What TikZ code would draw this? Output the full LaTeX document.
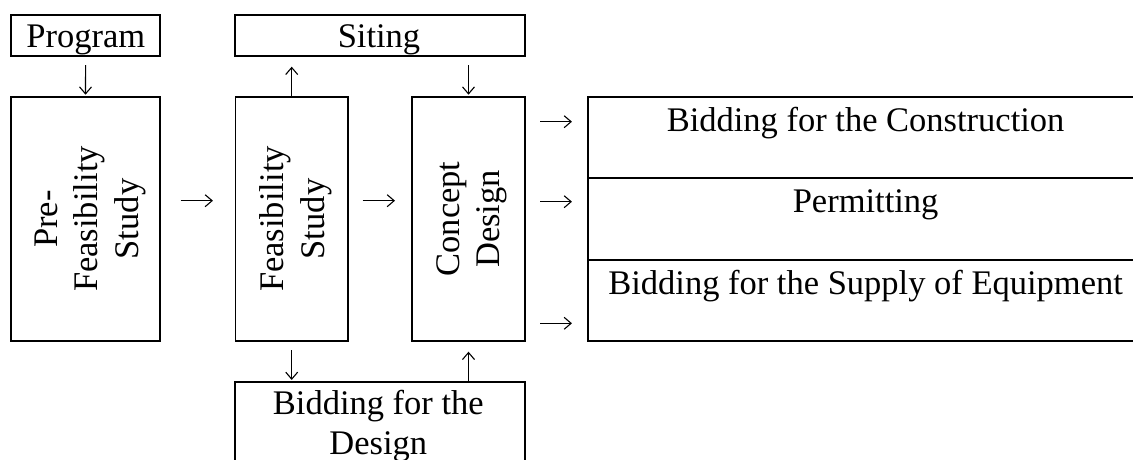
\documentclass[tikz,border=0pt]{standalone}
\usepackage{fontspec}
\setmainfont{Liberation Serif}
\usetikzlibrary{arrows.meta}

\begin{document}
\begin{tikzpicture}[x=1pt,y=1pt,
  box/.style={draw, line width=1.8pt, rectangle, inner sep=0pt, outer sep=0pt},
  lbl/.style={font=\fontsize{34.5}{40.5}\selectfont, align=center, inner sep=0pt},
  vlbl/.style={lbl, rotate=90},
  arr/.style={line width=1.1pt, -{Straight Barb[length=7pt,width=12pt]}},
]
\useasboundingbox (0,0) rectangle (1133,-459);
\clip (0,0) rectangle (1133,-459);

% top boxes
\node[box, minimum width=149.5, minimum height=41] (prog) at (85.6,-35.5) {};
\node[lbl, anchor=base] (progtxt) at (85.8,-47) {Program};
\node[box, minimum width=290, minimum height=41] (siting) at (380,-35.5) {};
\node[lbl, anchor=base] (sitingtxt) at (379,-47) {Siting};

% main stages
\node[box, minimum width=149.6, minimum height=244] (pre) at (85.5,-218.7) {};
\node[vlbl] (pretxt) at (90.3,-219) {Pre-\\Feasibility\\Study};
\node[box, minimum width=112.5, minimum height=244] (feas) at (291.7,-218.7) {};
\node[vlbl] (feastxt) at (296,-219) {Feasibility\\Study};
\node[box, minimum width=113, minimum height=244] (concept) at (468.5,-218.7) {};
\node[vlbl] (concepttxt) at (471.7,-219) {Concept\\Design};

% bidding for the design
\node[box, minimum width=290, minimum height=98.3] (design) at (380,-430.8) {};
\node[lbl, font=\fontsize{34.5}{40.5}\selectfont, anchor=north] (designtxt) at (378.3,-389.5) {Bidding for the\\Design};

% following activities
\node[box, minimum width=554.7, minimum height=81.6] (row1) at (865.6,-137.5) {};
\node[box, minimum width=554.7, minimum height=81.7] (row2) at (865.6,-219.15) {};
\node[box, minimum width=554.7, minimum height=80.7] (row3) at (865.6,-300.35) {};
\node[lbl, anchor=base] (row1txt) at (865.6,-131) {Bidding for the Construction};
\node[lbl, anchor=base] (row2txt) at (865.6,-212.5) {Permitting};
\node[lbl, anchor=base] (row3txt) at (865.6,-294) {Bidding for the Supply of Equipment};

% connectors
\draw[arr, shorten <=9pt, shorten >=2pt] (prog.south) -- (pre.north);
\draw[arr, shorten >=10.7pt] (feas.north) -- (feas.north |- siting.south);
\draw[arr, shorten <=9pt, shorten >=2pt] (concept.north |- siting.south) -- (concept.north);
\draw[arr, shorten <=20.2pt, shorten >=22.5pt] ([yshift=18pt]pre.east) -- ([yshift=18pt]feas.west);
\draw[arr, shorten <=14.7pt, shorten >=17pt] ([yshift=18pt]feas.east) -- ([yshift=18pt]concept.west);
\draw[arr, shorten <=15pt, shorten >=16.3pt] ([yshift=15.8pt]row1.west -| concept.east) -- ([yshift=15.8pt]row1.west);
\draw[arr, shorten <=15pt, shorten >=16.3pt] ([yshift=17.45pt]row2.west -| concept.east) -- ([yshift=17.45pt]row2.west);
\draw[arr, shorten <=15pt, shorten >=16.3pt] ([yshift=-22.95pt]row3.west -| concept.east) -- ([yshift=-22.95pt]row3.west);
\draw[arr, shorten <=9.3pt, shorten >=1.7pt] (feas.south) -- (feas.south |- design.north);
\draw[arr, shorten >=11pt] (concept.south |- design.north) -- (concept.south);
\end{tikzpicture}
\end{document}
